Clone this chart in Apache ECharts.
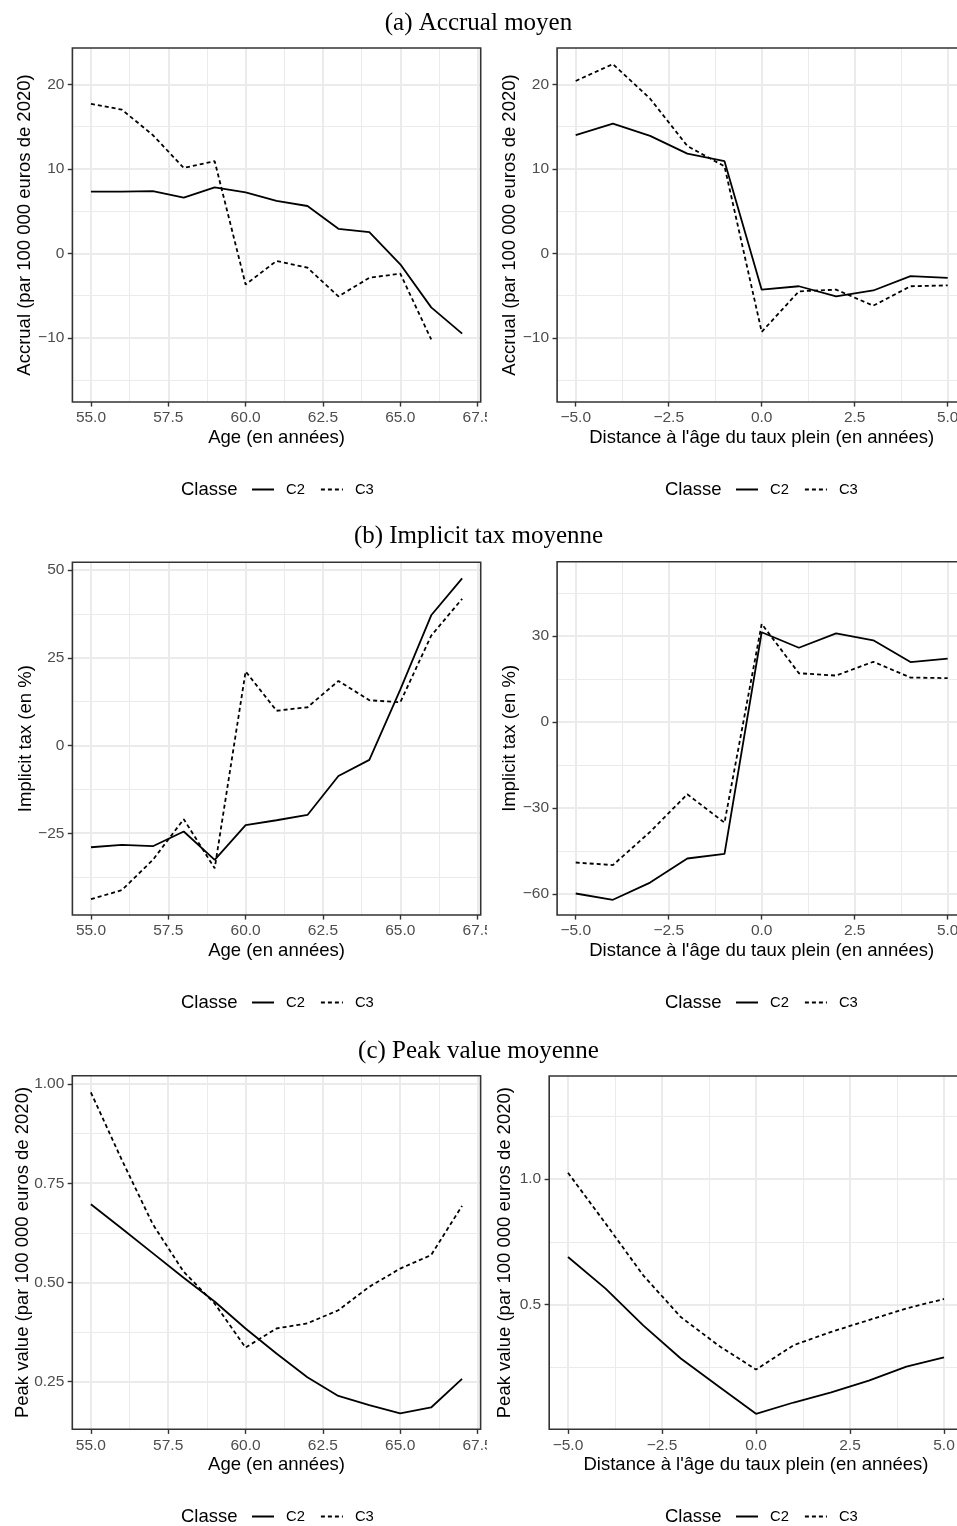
<!DOCTYPE html>
<html><head><meta charset="utf-8">
<script src="https://cdn.jsdelivr.net/npm/echarts@6/dist/echarts.min.js"></script>
<style>
html,body{margin:0;padding:0;background:#fff;}
#bg{position:absolute;left:0;top:0;width:957px;height:1526px;}
#colL{position:absolute;left:0;top:0;width:487px;height:1526px;}
#colR{position:absolute;left:480px;top:0;width:477px;height:1526px;}
</style></head>
<body>
<div id="bg"></div><div id="colL"></div><div id="colR"></div>
<script>
// ---------- data ----------
const ageX = [55, 56, 57, 58, 59, 60, 61, 62, 63, 64, 65, 66, 67];
const distX = [-5, -4, -3, -2, -1, 0, 1, 2, 3, 4, 5];
const seriesNames = ['C2', 'C3'];

const accrualAgeC2 = [7.3, 7.3, 7.35, 6.6, 7.8, 7.2, 6.2, 5.6, 2.9, 2.5, -1.3, -6.4, -9.5];
const accrualAgeC3 = [17.7, 17.0, 14.0, 10.1, 10.9, -3.7, -0.9, -1.7, -5.1, -2.9, -2.4, -10.2];
const accrualDistC2 = [14.0, 15.35, 13.9, 11.8, 10.9, -4.3, -3.9, -5.1, -4.4, -2.7, -2.9];
const accrualDistC3 = [20.4, 22.4, 18.3, 12.7, 10.3, -9.3, -4.5, -4.3, -6.2, -3.9, -3.8];

const taxAgeC2 = [-29.0, -28.3, -28.7, -24.5, -32.6, -22.7, -21.3, -19.8, -8.7, -4.1, 15.9, 37.1, 47.6];
const taxAgeC3 = [-43.8, -41.2, -32.6, -21.0, -35.0, 21.1, 9.9, 10.9, 18.4, 12.9, 12.3, 31.3, 41.8];
const taxDistC2 = [-59.8, -62.0, -56.0, -47.6, -46.0, 31.3, 25.9, 30.9, 28.5, 20.9, 22.1];
const taxDistC3 = [-49.0, -49.9, -38.3, -25.2, -35.1, 34.2, 17.0, 16.2, 21.0, 15.5, 15.3];

const peakAgeC2 = [0.697, 0.636, 0.574, 0.512, 0.452, 0.384, 0.321, 0.261, 0.214, 0.191, 0.170, 0.185, 0.257];
const peakAgeC3 = [0.979, 0.809, 0.647, 0.527, 0.447, 0.336, 0.384, 0.397, 0.430, 0.489, 0.535, 0.569, 0.693];
const peakDistC2 = [0.690, 0.564, 0.418, 0.286, 0.176, 0.066, 0.111, 0.151, 0.198, 0.254, 0.291];
const peakDistC3 = [1.025, 0.823, 0.617, 0.451, 0.338, 0.242, 0.339, 0.392, 0.439, 0.485, 0.523];

// tick values
const ageTicks = [55, 57.5, 60, 62.5, 65, 67.5];
const ageMinor = [56.25, 58.75, 61.25, 63.75, 66.25];
const distTicks = [-5, -2.5, 0, 2.5, 5];
const distMinor = [-3.75, -1.25, 1.25, 3.75];
const accrualTicks = [-10, 0, 10, 20];
const accrualMinor = [-15, -5, 5, 15];
const taxAgeTicks = [-25, 0, 25, 50];
const taxAgeMinor = [-37.5, -12.5, 12.5, 37.5];
const taxDistTicks = [-60, -30, 0, 30];
const taxDistMinor = [-45, -15, 15, 45];
const peakAgeTicks = [0.25, 0.5, 0.75, 1.0];
const peakAgeMinor = [0.375, 0.625, 0.875];
const peakDistTicks = [0.5, 1.0];
const peakDistMinor = [0.25, 0.75, 1.25];

const panelTitles = ['(a) Accrual moyen', '(b) Implicit tax moyenne', '(c) Peak value moyenne'];
const legendTitle = 'Classe';
const ageName = 'Age (en années)';
const distName = "Distance à l'âge du taux plein (en années)";
const accrualName = 'Accrual (par 100 000 euros de 2020)';
const taxName = 'Implicit tax (en %)';
const peakName = 'Peak value (par 100 000 euros de 2020)';

// ---------- styles ----------
const SANS = '"Liberation Sans", Arial, sans-serif';
const fmt = d => v => v.toFixed(d).replace('-', '\u2212');

function axisPair(dim, g, min, max, major, minor, dec, name, nameGap) {
  const pos = dim === 'x' ? 'bottom' : 'left';
  const main = {
    type: 'value', gridIndex: g, min: min, max: max, position: pos,
    axisLine: {show: false, onZero: false},
    axisTick: {show: true, length: 4.6, lineStyle: {color: '#333', width: 1.4}, customValues: major},
    axisLabel: {show: true, customValues: major, formatter: fmt(dec), color: '#4D4D4D', fontSize: 15.5, fontFamily: SANS, margin: 8},
    splitLine: {show: true, lineStyle: {color: '#EBEBEB', width: 2}},
    name: name, nameLocation: 'middle', nameGap: nameGap, nameMoveOverlap: false,
    nameTextStyle: {color: '#000', fontSize: 18.5, fontFamily: SANS}
  };
  const sub = {
    type: 'value', gridIndex: g, min: min, max: max, position: pos,
    axisLine: {show: false, onZero: false},
    axisTick: {show: false, customValues: minor},
    axisLabel: {show: false, customValues: minor},
    splitLine: {show: true, lineStyle: {color: '#EBEBEB', width: 1}}
  };
  return [sub, main];
}

function buildColumn(panels, legendX, legendTitleX) {
  const grid = [], xAxis = [], yAxis = [], series = [], legend = [], title = [];
  panels.forEach((p, g) => {
    grid.push({left: p.left, top: p.top, width: p.width, height: p.height, show: true,
      containLabel: false, outerBoundsMode: 'none',
      borderColor: '#333', borderWidth: 1.6, backgroundColor: 'transparent', z: 3});
    const xs = axisPair('x', g, p.xmin, p.xmax, p.xTicks, p.xMinor, 1, p.xName, 26);
    const ys = axisPair('y', g, p.ymin, p.ymax, p.yTicks, p.yMinor, p.yDec, p.yName, p.yGap);
    const xi = xAxis.length, yi = yAxis.length;
    xAxis.push(xs[0], xs[1]);
    yAxis.push(ys[0], ys[1]);
    [p.c2, p.c3].forEach((vals, k) => {
      series.push({
        type: 'line', name: seriesNames[k], xAxisIndex: xi + 1, yAxisIndex: yi + 1,
        data: vals.map((v, i) => [p.x[i], v]),
        symbol: 'none', showSymbol: false, silent: true, animation: false, z: 5,
        lineStyle: {color: '#000', width: 1.8, type: k === 0 ? 'solid' : [4, 3]},
        itemStyle: {color: '#000'}
      });
    });
    legend.push({
      data: seriesNames, left: legendX, top: p.legendY - 9, padding: 0, itemGap: 15,
      itemWidth: 22, itemHeight: 4, orient: 'horizontal', selectedMode: false,
      itemStyle: {opacity: 0},
      textStyle: {color: '#000', fontSize: 14.8, fontFamily: SANS, padding: [0, 0, 0, 7]}
    });
    title.push({text: legendTitle, left: legendTitleX, top: p.legendY - 11, padding: 0,
      textStyle: {color: '#000', fontSize: 18.5, fontWeight: 'normal', fontFamily: SANS}});
  });
  return {animation: false, backgroundColor: 'transparent', title, grid, xAxis, yAxis, series, legend};
}

const leftPanels = [
  {left: 72.4, top: 48, width: 408.3, height: 354, xmin: 54.4, xmax: 67.6, ymin: -17.6, ymax: 24.3,
   x: ageX, c2: accrualAgeC2, c3: accrualAgeC3, xTicks: ageTicks, xMinor: ageMinor,
   yTicks: accrualTicks, yMinor: accrualMinor, yDec: 0, xName: ageName, yName: accrualName, yGap: 38, legendY: 491},
  {left: 72.4, top: 562.3, width: 408.3, height: 352.7, xmin: 54.4, xmax: 67.6, ymin: -48.3, ymax: 52.2,
   x: ageX, c2: taxAgeC2, c3: taxAgeC3, xTicks: ageTicks, xMinor: ageMinor,
   yTicks: taxAgeTicks, yMinor: taxAgeMinor, yDec: 0, xName: ageName, yName: taxName, yGap: 37, legendY: 1004},
  {left: 72.3, top: 1075.7, width: 408.3, height: 353.6, xmin: 54.4, xmax: 67.6, ymin: 0.130, ymax: 1.021,
   x: ageX, c2: peakAgeC2, c3: peakAgeC3, xTicks: ageTicks, xMinor: ageMinor,
   yTicks: peakAgeTicks, yMinor: peakAgeMinor, yDec: 2, xName: ageName, yName: peakName, yGap: 40, legendY: 1518}
];
const rightPanels = [
  {left: 77.1, top: 48, width: 409.2, height: 354, xmin: -5.5, xmax: 5.5, ymin: -17.6, ymax: 24.3,
   x: distX, c2: accrualDistC2, c3: accrualDistC3, xTicks: distTicks, xMinor: distMinor,
   yTicks: accrualTicks, yMinor: accrualMinor, yDec: 0, xName: distName, yName: accrualName, yGap: 38, legendY: 491},
  {left: 77.1, top: 561.7, width: 409.2, height: 353.3, xmin: -5.5, xmax: 5.5, ymin: -67.3, ymax: 55.9,
   x: distX, c2: taxDistC2, c3: taxDistC3, xTicks: distTicks, xMinor: distMinor,
   yTicks: taxDistTicks, yMinor: taxDistMinor, yDec: 0, xName: distName, yName: taxName, yGap: 38, legendY: 1004},
  {left: 69.2, top: 1076, width: 413.6, height: 353.3, xmin: -5.5, xmax: 5.5, ymin: 0.0044, ymax: 1.41,
   x: distX, c2: peakDistC2, c3: peakDistC3, xTicks: distTicks, xMinor: distMinor,
   yTicks: peakDistTicks, yMinor: peakDistMinor, yDec: 1, xName: distName, yName: peakName, yGap: 35, legendY: 1518}
];

// background: panel titles
const bg = echarts.init(document.getElementById('bg'), null, {renderer: 'canvas'});
bg.setOption({
  animation: false, backgroundColor: '#fff',
  title: panelTitles.map((t, i) => ({
    text: t, left: 'center', top: [11, 524, 1039][i], padding: 0,
    textStyle: {color: '#000', fontSize: 25, fontWeight: 'normal', fontFamily: '"Liberation Serif", "DejaVu Serif", serif'}
  }))
});

const cl = echarts.init(document.getElementById('colL'), null, {renderer: 'canvas'});
cl.setOption(buildColumn(leftPanels, 251, 181));
const cr = echarts.init(document.getElementById('colR'), null, {renderer: 'canvas'});
cr.setOption(buildColumn(rightPanels, 255, 185));
</script>
</body></html>
